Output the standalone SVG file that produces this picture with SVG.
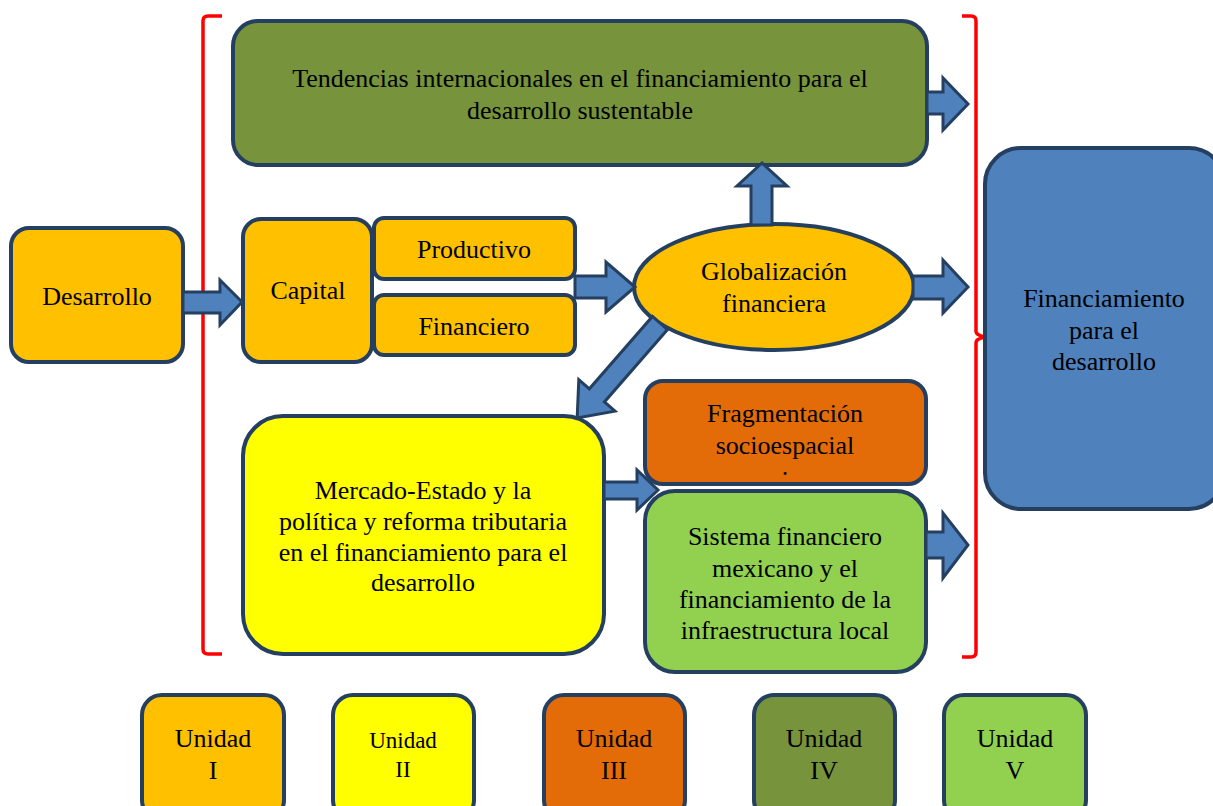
<svg xmlns="http://www.w3.org/2000/svg" width="1213" height="806" viewBox="0 0 1213 806">
<style>
.n{stroke:#243F60;stroke-width:4}
.t{font-family:"Liberation Serif","Times New Roman",serif;font-size:26px;fill:#000;text-anchor:middle}
.s{font-size:23px}
.a{fill:#4F81BD;stroke:#243F60;stroke-width:3;stroke-linejoin:miter}
.br{fill:none;stroke:#FF0000;stroke-width:3.5}
</style>
<rect width="1213" height="806" fill="#fff"/>
<g id="brackets">
<path class="br" d="M222,16 H208 Q203,16 203,21 V296 Q203,302 183,302 Q203,302 203,308 V649 Q203,654 208,654 H222"/>
<path class="br" d="M962,16 H971 Q976,16 976,21 V331 Q976,337 992,337 Q976,337 976,343 V652 Q976,657 971,657 H962"/>
</g>
<g id="n-tendencias"><rect class="n" x="233" y="21" width="694" height="144" rx="25" fill="#77933C"/>
<text class="t" x="580" y="87">Tendencias internacionales en el financiamiento para el</text>
<text class="t" x="580" y="119">desarrollo sustentable</text></g>
<g id="n-financiamiento"><rect class="n" x="985" y="148" width="240" height="361" rx="36" fill="#4F81BD"/>
<text class="t" x="1104" y="307">Financiamiento</text>
<text class="t" x="1104" y="339">para el</text>
<text class="t" x="1104" y="370">desarrollo</text></g>
<g id="n-desarrollo"><rect class="n" x="11" y="228" width="172" height="134" rx="18" fill="#FFC000"/>
<text class="t" x="97" y="305">Desarrollo</text></g>
<g id="n-capital"><rect class="n" x="243" y="219" width="129" height="143" rx="18" fill="#FFC000"/>
<text class="t" x="308" y="299">Capital</text></g>
<g id="n-productivo"><rect class="n" x="374" y="218" width="201" height="61" rx="10" fill="#FFC000"/>
<text class="t" x="474" y="258">Productivo</text></g>
<g id="n-financiero"><rect class="n" x="374" y="295" width="201" height="60" rx="10" fill="#FFC000"/>
<text class="t" x="474" y="335">Financiero</text></g>
<g id="n-globalizacion"><ellipse class="n" cx="774" cy="287" rx="140" ry="63" fill="#FFC000"/>
<text class="t" x="774" y="280">Globalización</text>
<text class="t" x="774" y="312">financiera</text></g>
<g id="n-mercado"><rect class="n" x="243" y="416" width="361" height="238" rx="40" fill="#FFFF00"/>
<text class="t" x="423" y="499">Mercado-Estado y la</text>
<text class="t" x="423" y="530">política y reforma tributaria</text>
<text class="t" x="423" y="561">en el financiamiento para el</text>
<text class="t" x="423" y="591">desarrollo</text></g>
<g id="n-fragmentacion"><rect class="n" x="645" y="381" width="281" height="103" rx="18" fill="#E36C09"/>
<text class="t" x="785" y="422">Fragmentación</text>
<text class="t" x="785" y="454">socioespacial</text>
<text class="t" x="785" y="475" style="font-size:18px;font-weight:bold">.</text></g>
<g id="n-sistema"><rect class="n" x="645" y="491" width="281" height="181" rx="30" fill="#92D050"/>
<text class="t" x="785" y="545">Sistema financiero</text>
<text class="t" x="785" y="577">mexicano y el</text>
<text class="t" x="785" y="608">financiamiento de la</text>
<text class="t" x="785" y="639">infraestructura local</text></g>
<g id="connectors">
<path class="a" d="M183,292 H220 V280 L242,302 L220,325 V313 H183 Z"/>
<path class="a" d="M575,276 H606 V262 L635,287 L606,312 V298 H575 Z"/>
<path class="a" d="M927,92 H943 V78 L968,104 L943,130 V114 H927 Z"/>
<path class="a" d="M913,276 H943 V260 L968,287 L943,313 V299 H913 Z"/>
<path class="a" d="M926,532 H943 V513 L968,545 L943,578 V558 H926 Z"/>
<path class="a" d="M751,225 V186 H737 L762,163 L787,186 H772 V225 Z"/>
<path class="a" d="M604,482 H637 V470 L658,490 L637,510 V499 H604 Z"/>
<path class="a" transform="translate(660,323) rotate(131.1)" d="M0,-10 H96 V-24 L126,0 L96,24 V10 H0 Z"/>
</g>
<g id="n-u1"><rect class="n" x="142" y="695" width="142" height="125" rx="20" fill="#FFC000"/>
<text class="t" x="213" y="747">Unidad</text><text class="t" x="213" y="779">I</text></g>
<g id="n-u2"><rect class="n" x="333" y="695" width="141" height="125" rx="20" fill="#FFFF00"/>
<text class="t s" x="403" y="748">Unidad</text><text class="t s" x="403" y="777">II</text></g>
<g id="n-u3"><rect class="n" x="544" y="695" width="141" height="125" rx="20" fill="#E36C09"/>
<text class="t" x="614" y="747">Unidad</text><text class="t" x="614" y="779">III</text></g>
<g id="n-u4"><rect class="n" x="754" y="695" width="141" height="125" rx="20" fill="#77933C"/>
<text class="t" x="824" y="747">Unidad</text><text class="t" x="824" y="779">IV</text></g>
<g id="n-u5"><rect class="n" x="944" y="695" width="142" height="125" rx="20" fill="#92D050"/>
<text class="t" x="1015" y="747">Unidad</text><text class="t" x="1015" y="779">V</text></g>
</svg>
